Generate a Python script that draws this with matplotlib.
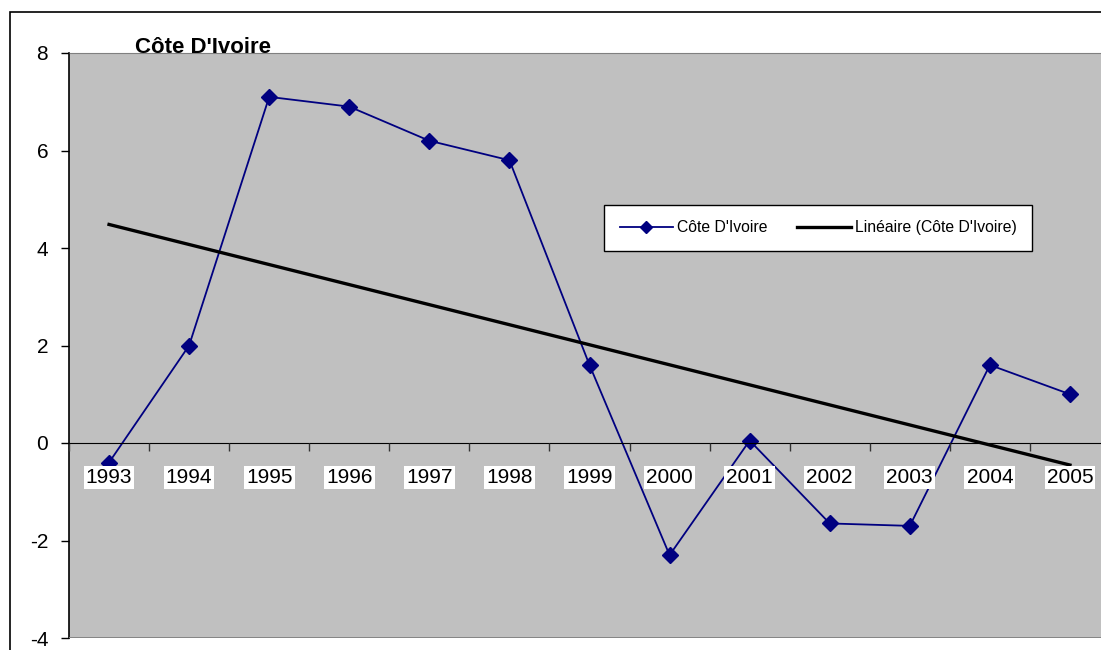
import matplotlib
matplotlib.use("Agg")
import matplotlib.pyplot as plt
import numpy as np
from matplotlib.patches import Rectangle

plt.rcParams['font.family'] = ['Liberation Sans', 'DejaVu Sans']

# data
years = ['1993', '1994', '1995', '1996', '1997', '1998', '1999',
         '2000', '2001', '2002', '2003', '2004', '2005']
values = [-0.4, 2.0, 7.1, 6.9, 6.2, 5.8, 1.6, -2.3, 0.05, -1.65, -1.7, 1.6, 1.0]
y_ticks = [-4, -2, 0, 2, 4, 6, 8]

W, H = 1101, 650
fig = plt.figure(figsize=(W / 100, H / 100), dpi=100)
fig.patch.set_facecolor('white')

# outer chart frame (cut at right/bottom like the original)
fig.add_artist(Rectangle((10 / W, -0.1), 2, (H - 12) / H + 0.1,
                         transform=fig.transFigure, fill=False,
                         edgecolor='black', lw=1.2))

# plot area spans past the right edge of the image
ax = fig.add_axes([69 / W, (H - 638) / H, (1110 - 69) / W, (638 - 53) / H])
ax.set_facecolor('#C0C0C0')

x = np.arange(len(years))
ax.plot(x, values, color='#000080', lw=1.3, marker='D', markersize=8,
        label="Côte D'Ivoire", zorder=2)

# linear trend
slope, icpt = np.polyfit(x, values, 1)
ax.plot(x, slope * x + icpt, color='black', lw=2.4,
        label="Linéaire (Côte D'Ivoire)", zorder=2)

ax.set_xlim(-0.5, len(years) - 0.5)
ax.set_ylim(-4, 8)
ax.set_yticks(y_ticks)
ax.set_yticklabels([str(v) for v in y_ticks], fontsize=15)
ax.tick_params(axis='y', direction='out', length=6, width=1, pad=9)

ax.spines['bottom'].set_position(('data', 0))
ax.spines['top'].set_color('#808080')
ax.spines['right'].set_visible(False)
ax.spines['left'].set_linewidth(1.2)
ax.axhline(-4, color='#808080', lw=2, zorder=3)

# category labels at centres, tick marks at boundaries
ax.set_xticks(x)
ax.set_xticklabels(years, fontsize=15)
ax.set_xticks(np.arange(len(years) + 1) - 0.5, minor=True)
ax.tick_params(axis='x', which='major', length=0, pad=18)
ax.tick_params(axis='x', which='minor', direction='out', length=6,
               width=1, color='#333333')
for lab in ax.get_xticklabels():
    lab.set_bbox(dict(facecolor='white', edgecolor='none', pad=1.5))
ax.set_axisbelow(False)

fig.text(203 / W, (H - 53) / H, "Côte D'Ivoire", fontsize=16,
         fontweight='bold', ha='center', va='baseline')

leg = ax.legend(loc='center', bbox_to_anchor=(818 / W, (H - 228) / H),
                bbox_transform=fig.transFigure, ncol=2, fontsize=11.3,
                frameon=True, fancybox=False, handlelength=3.4,
                handletextpad=0.25, columnspacing=1.9, borderpad=1.0,
                markerscale=0.8)
leg.get_frame().set_edgecolor('black')
leg.get_frame().set_linewidth(1)
leg.get_frame().set_alpha(1)

fig.savefig('out.png', dpi=100)
